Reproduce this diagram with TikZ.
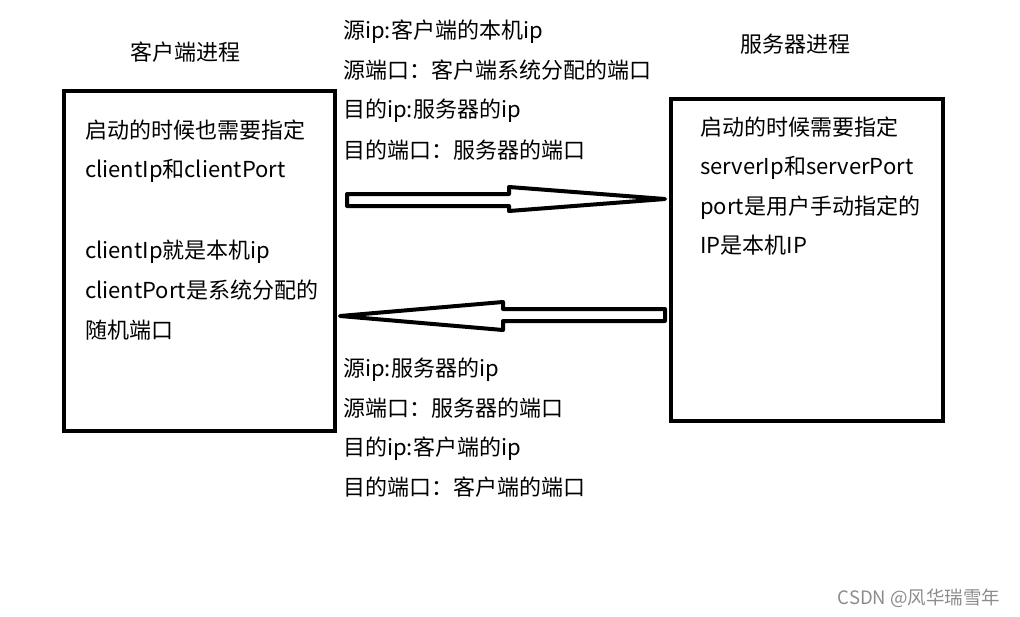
\documentclass[tikz,border=0pt]{standalone}
\usepackage{fontspec}
\setmainfont{Noto Sans CJK SC}
\begin{document}
\begin{tikzpicture}[x=1pt,y=-1pt,
  box/.style={draw,line width=4pt,inner sep=0pt},
  txt/.style={anchor=base west,inner sep=0pt,font=\fontsize{22}{26}\selectfont},
  ttl/.style={anchor=base,inner sep=0pt,font=\fontsize{22}{26}\selectfont},
  blk/.style={draw,line width=4pt,line join=round,fill=white},
  wmtext/.style={anchor=base,inner sep=0pt,text=black!45,font=\fontsize{18.5}{22}\selectfont}]
\useasboundingbox (0,0) rectangle (1020,616);
\node[box,minimum width=271pt,minimum height=340pt] (client) at (199.5,261) {};
\node[box,minimum width=272pt,minimum height=322pt] (server) at (807,260) {};
% arrows
\draw[blk] (347,194) -- (509,194) -- (509,187) -- (665,199) -- (509,211) -- (509,206) -- (347,206) -- cycle;
\draw[blk] (340,316) -- (503,302) -- (503,309) -- (665,309) -- (665,321) -- (503,321) -- (503,330) -- cycle;
% titles
\node[ttl] (tc) at (185,60) {客户端进程};
\node[ttl] (ts) at (795,52) {服务器进程};
% client text
\node[txt] (c1) at (85,138) {启动的时候也需要指定};
\node[txt] (c2) at (85,177) {clientIp和clientPort};
\node[txt] (c3) at (85,258) {clientIp就是本机ip};
\node[txt] (c4) at (85,298) {clientPort是系统分配的};
\node[txt] (c5) at (85,338) {随机端口};
% server text
\node[txt] (s1) at (700,135) {启动的时候需要指定};
\node[txt] (s2) at (700,174) {serverIp和serverPort};
\node[txt] (s3) at (700,214) {port是用户手动指定的};
\node[txt] (s4) at (700,253) {IP是本机IP};
% top messages
\node[txt] (u1) at (343,38) {源ip:客户端的本机ip};
\node[txt] (u2) at (343,78) {源端口：客户端系统分配的端口};
\node[txt] (u3) at (343,117) {目的ip:服务器的ip};
\node[txt] (u4) at (343,158) {目的端口：服务器的端口};
% bottom messages
\node[txt] (d1) at (343,376) {源ip:服务器的ip};
\node[txt] (d2) at (343,416) {源端口：服务器的端口};
\node[txt] (d3) at (343,455) {目的ip:客户端的ip};
\node[txt] (d4) at (343,495) {目的端口：客户端的端口};
% watermark
\node[wmtext] (wm) at (919,604) {CSDN @风华瑞雪年};
\end{tikzpicture}
\end{document}
